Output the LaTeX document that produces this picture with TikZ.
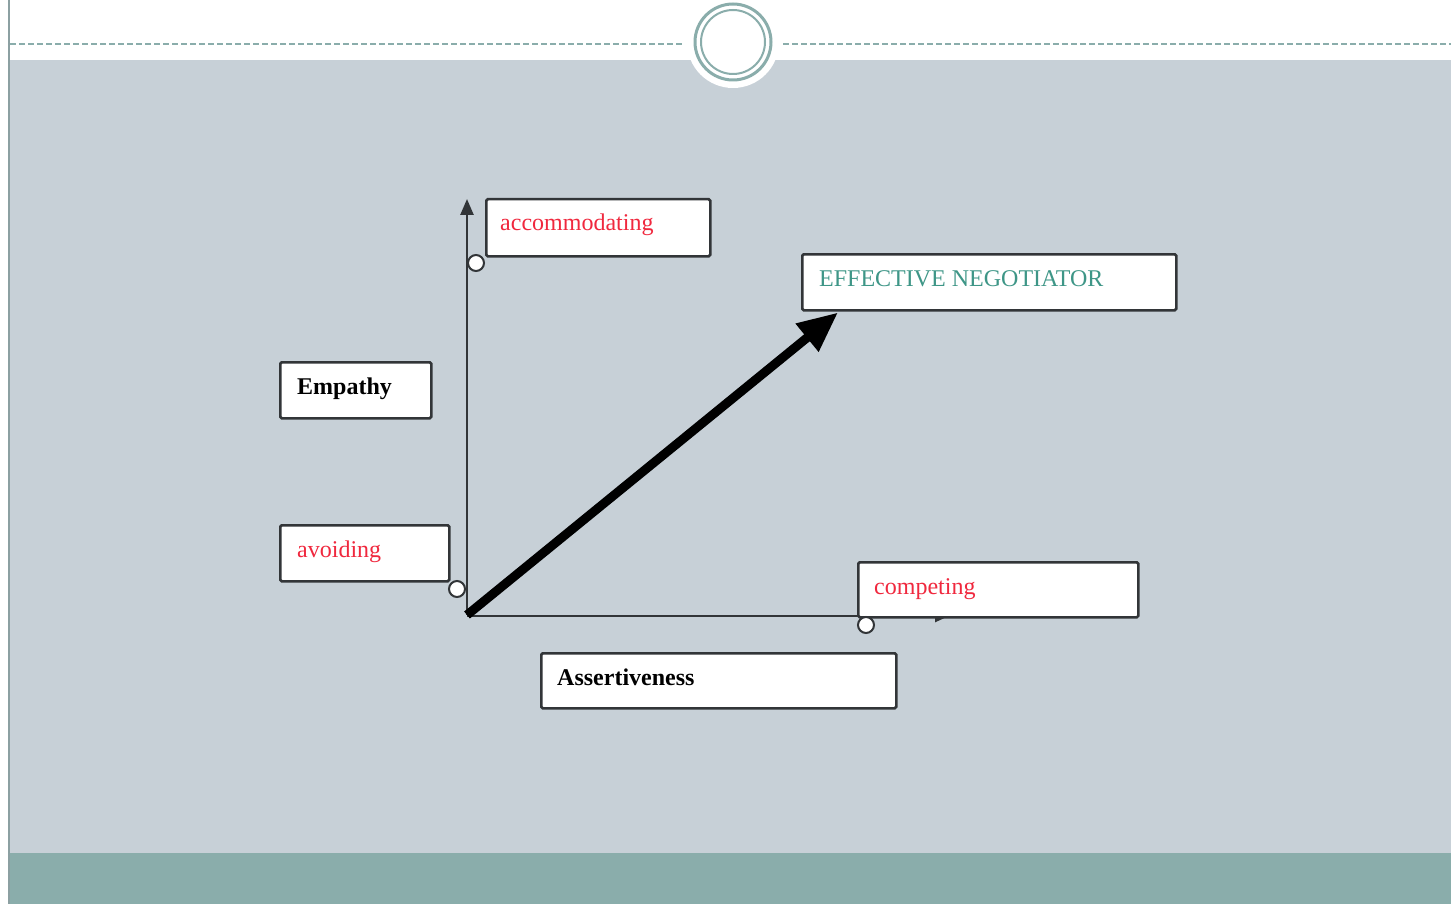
\documentclass[tikz,border=0pt]{standalone}
\usepackage{fontspec}
\setmainfont{Liberation Serif}
\usetikzlibrary{arrows.meta,calc}
\definecolor{panel}{RGB}{199,208,215}
\definecolor{tealband}{RGB}{138,173,171}
\definecolor{edgeg}{RGB}{50,53,56}
\definecolor{leftline}{RGB}{140,160,162}
\definecolor{lblred}{RGB}{240,40,62}
\definecolor{lblteal}{RGB}{62,150,135}
\tikzset{
  box/.style={draw=edgeg, fill=white, line width=2.5pt, rounded corners=1.5pt, anchor=north west, inner sep=0pt},
  lbl/.style={anchor=base west, inner sep=0pt, font=\fontsize{24}{28}\selectfont},
  dot/.style={circle, draw=edgeg, fill=white, line width=2pt, minimum size=16pt, inner sep=0pt},
  axis/.style={draw=edgeg, line width=2.5pt}
}
\begin{document}
\begin{tikzpicture}[x=1pt,y=-1pt]
\useasboundingbox (0,0) rectangle (1451,904);
% background
\fill[white] (0,0) rectangle (1451,904);
\fill[panel] (10,60) rectangle (1451,853);
\fill[tealband] (10,853) rectangle (1451,904);
\draw[leftline, line width=2pt] (9,0) -- (9,904);
% header
\draw[tealband, line width=2.5pt, dash pattern=on 6pt off 3pt] (10,44) -- (683,44);
\draw[tealband, line width=2.5pt, dash pattern=on 6pt off 3pt] (783,44) -- (1451,44);
\fill[white] (733,42) circle (46pt);
\draw[tealband, line width=3pt] (733,42) circle (38pt);
\draw[tealband, line width=2pt] (733,42) circle (32pt);
% axes
\coordinate (O) at (467,615);
\coordinate (Ytop) at (467,199);
\coordinate (Xend) at (949,616);
\draw[axis, -{Triangle[length=16pt,width=13pt]}] (O) -- (Ytop);
\draw[axis, -{Triangle[length=14pt,width=12pt]}] (467,616) -- (Xend);
% boxes
\node[box, minimum width=224pt, minimum height=57pt] (acc) at (485,198) {};
\node[lbl, text=lblred] (acct) at (500,231) {accommodating};
\node[box, minimum width=374pt, minimum height=56pt] (en) at (801,253) {};
\node[lbl, text=lblteal] (ent) at (819,286) {EFFECTIVE NEGOTIATOR};
\node[box, minimum width=151pt, minimum height=56pt] (emp) at (279,361) {};
\node[lbl, font=\fontsize{24}{28}\selectfont\bfseries] (empt) at (297,394) {Empathy};
\node[box, minimum width=169pt, minimum height=56pt] (avo) at (279,524) {};
\node[lbl, text=lblred] (avot) at (297,557) {avoiding};
\node[box, minimum width=280pt, minimum height=55pt] (com) at (857,561) {};
\node[lbl, text=lblred] (comt) at (874,594) {competing};
\node[box, minimum width=355pt, minimum height=55pt] (ass) at (540,652) {};
\node[lbl, font=\fontsize{24}{28}\selectfont\bfseries] (asst) at (557,685) {Assertiveness};
% thick arrow
\coordinate (tip) at ($(en.south west)+(37,1)$);
\draw[black, line width=9pt, -{Triangle[length=40pt,width=34pt]}] (O) -- (tip);
% small circles
\node[dot] (d1) at (476,263) {};
\node[dot] (d2) at (457,589) {};
\node[dot] (d3) at (866,625) {};
\end{tikzpicture}
\end{document}
